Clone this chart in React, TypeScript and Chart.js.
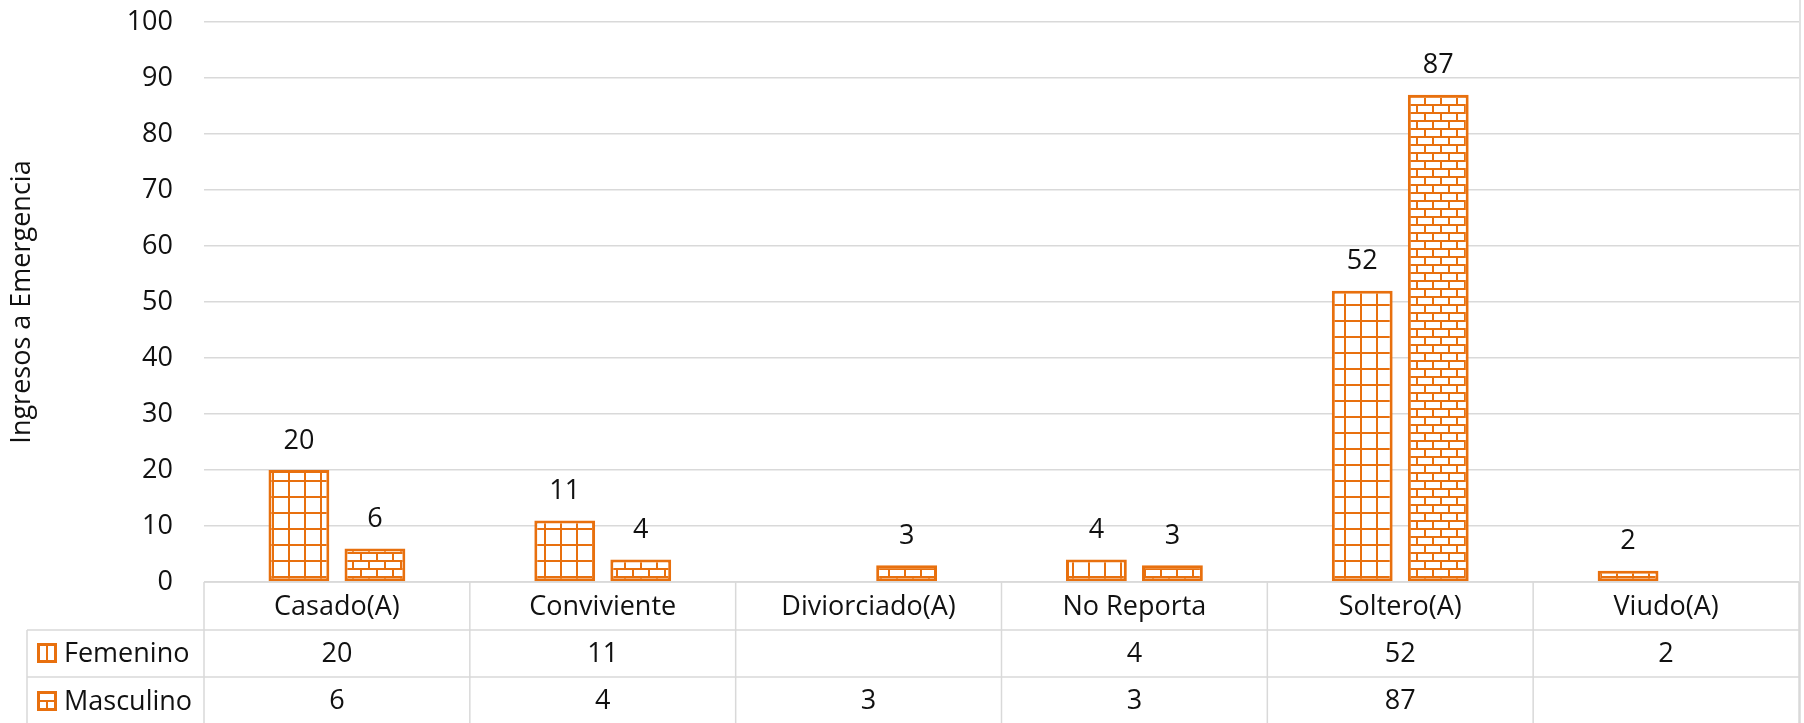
import React, { useEffect, useRef } from "react";
import { Chart, registerables } from "chart.js";

Chart.register(...registerables);

const categories = ["Casado(A)", "Conviviente", "Diviorciado(A)", "No Reporta", "Soltero(A)", "Viudo(A)"];
const femenino: (number | null)[] = [20, 11, null, 4, 52, 2];
const masculino: (number | null)[] = [6, 4, 3, 3, 87, null];
const seriesNames = ["Femenino", "Masculino"];
const yTicks = { min: 0, max: 100, step: 10 };
const yTitle = "Ingresos a Emergencia";

const ORANGE = "#E8700E";
const GRID = "#D9D9D9";
const TEXT = "#111111";
const FONT = "'Open Sans'";
const FS = 27;

function makeGridPattern(): CanvasPattern | string {
  const c = document.createElement("canvas");
  c.width = 16; c.height = 16;
  const g = c.getContext("2d");
  if (!g) return ORANGE;
  g.fillStyle = "#ffffff"; g.fillRect(0, 0, 16, 16);
  g.fillStyle = ORANGE;
  g.fillRect(0, 0, 2, 16);
  g.fillRect(0, 0, 16, 2);
  return g.createPattern(c, "repeat") as CanvasPattern;
}

function makeBrickPattern(): CanvasPattern | string {
  const c = document.createElement("canvas");
  c.width = 16; c.height = 16;
  const g = c.getContext("2d");
  if (!g) return ORANGE;
  g.fillStyle = "#ffffff"; g.fillRect(0, 0, 16, 16);
  g.fillStyle = ORANGE;
  g.fillRect(0, 0, 16, 2);
  g.fillRect(0, 8, 16, 2);
  g.fillRect(0, 0, 2, 8);
  g.fillRect(8, 8, 2, 8);
  return g.createPattern(c, "repeat") as CanvasPattern;
}

const dataLabelPlugin = {
  id: "dataLabels",
  afterDatasetsDraw(chart: any) {
    const ctx = chart.ctx;
    ctx.save();
    ctx.font = `${FS}px ${FONT}`;
    ctx.fillStyle = TEXT;
    ctx.textAlign = "center";
    ctx.textBaseline = "middle";
    chart.data.datasets.forEach((ds: any, di: number) => {
      const meta = chart.getDatasetMeta(di);
      meta.data.forEach((bar: any, i: number) => {
        const v = ds.data[i];
        if (v === null || v === undefined) return;
        ctx.fillText(String(v), bar.x, bar.y - 29);
      });
    });
    ctx.restore();
  },
};

const tablePlugin = {
  id: "dataTable",
  afterDraw(chart: any) {
    const ctx = chart.ctx;
    const { left, right, bottom } = chart.chartArea;
    const H = chart.height;
    const row0 = bottom;
    const row1 = 630;
    const row2 = 677;
    const tableLeft = 27;
    const n = categories.length;
    const cw = (right - left) / n;
    ctx.save();
    ctx.strokeStyle = GRID;
    ctx.lineWidth = 1.5;
    ctx.beginPath();
    ctx.moveTo(left, row0); ctx.lineTo(right, row0);
    ctx.moveTo(tableLeft, row1); ctx.lineTo(right, row1);
    ctx.moveTo(tableLeft, row2); ctx.lineTo(right, row2);
    ctx.moveTo(tableLeft, row1); ctx.lineTo(tableLeft, H);
    for (let i = 0; i <= n; i++) {
      const x = left + i * cw;
      ctx.moveTo(x, row0); ctx.lineTo(x, H);
    }
    ctx.moveTo(1800, 0); ctx.lineTo(1800, H);
    ctx.stroke();

    ctx.font = `${FS}px ${FONT}`;
    ctx.fillStyle = TEXT;
    ctx.textAlign = "center";
    ctx.textBaseline = "middle";
    const xs = chart.scales.x;
    const rows = [femenino, masculino];
    categories.forEach((c, i) => {
      const x = xs.getPixelForValue(i);
      ctx.fillText(c, x, (row0 + row1) / 2 + 1);
      rows.forEach((r, ri) => {
        const v = r[i];
        if (v === null || v === undefined) return;
        const y = ri === 0 ? (row1 + row2) / 2 + 1 : (row2 + H) / 2 + 1;
        ctx.fillText(String(v), x, y);
      });
    });

    // legend keys
    ctx.textAlign = "left";
    const keyX = 37, keyS = 20;
    const keys = [653, 701];
    keys.forEach((cy, ri) => {
      const y0 = cy - keyS / 2;
      ctx.fillStyle = ORANGE;
      ctx.fillRect(keyX, y0, keyS, keyS);
      ctx.fillStyle = "#ffffff";
      if (ri === 0) {
        ctx.fillRect(keyX + 3, y0 + 3, 6, keyS - 6);
        ctx.fillRect(keyX + 11, y0 + 3, 6, keyS - 6);
      } else {
        ctx.fillRect(keyX + 3, y0 + 3, keyS - 6, 6);
        ctx.fillRect(keyX + 3, y0 + 11, 6, 6);
        ctx.fillRect(keyX + 11, y0 + 11, 6, 6);
      }
      ctx.fillStyle = TEXT;
      ctx.fillText(seriesNames[ri], 64, cy + 1);
    });
    ctx.restore();
  },
};

export default function App() {
  const ref = useRef<HTMLCanvasElement | null>(null);
  useEffect(() => {
    document.body.style.margin = "0";
    if (!ref.current) return;
    const chart = new Chart(ref.current, {
      type: "bar",
      data: {
        labels: categories,
        datasets: [
          {
            label: seriesNames[0],
            data: femenino,
            backgroundColor: makeGridPattern() as any,
            borderColor: ORANGE,
            borderWidth: 3,
            borderSkipped: false,
            categoryPercentage: 0.572,
            barPercentage: 0.8,
          },
          {
            label: seriesNames[1],
            data: masculino,
            backgroundColor: makeBrickPattern() as any,
            borderColor: ORANGE,
            borderWidth: 3,
            borderSkipped: false,
            categoryPercentage: 0.572,
            barPercentage: 0.8,
          },
        ],
      },
      options: {
        responsive: false,
        animation: false,
        devicePixelRatio: 1,
        layout: { padding: { top: 22, right: 5, left: 0, bottom: 0 } },
        plugins: { legend: { display: false }, tooltip: { enabled: false } },
        scales: {
          x: {
            grid: { display: false },
            border: { display: false },
            ticks: { display: false },
            afterFit: (s: any) => { s.height = 141; s.paddingLeft = 0; s.paddingRight = 0; },
          },
          y: {
            min: yTicks.min,
            max: yTicks.max,
            ticks: { stepSize: yTicks.step, padding: 31, color: TEXT, font: { family: FONT, size: FS } },
            grid: { color: GRID, lineWidth: 1.5, drawTicks: false },
            border: { display: false },
            title: { display: true, text: yTitle, color: TEXT, font: { family: FONT, size: FS }, padding: { top: 6, bottom: 0 } },
            afterFit: (s: any) => { s.width = 204; s.paddingTop = 0; s.paddingBottom = 0; },
          },
        },
      },
      plugins: [dataLabelPlugin, tablePlugin],
    });
    return () => chart.destroy();
  }, []);
  return (
    <div style={{ width: 1804, height: 723 }}>
      <canvas ref={ref} width={1804} height={723} style={{ display: "block" }} />
    </div>
  );
}
